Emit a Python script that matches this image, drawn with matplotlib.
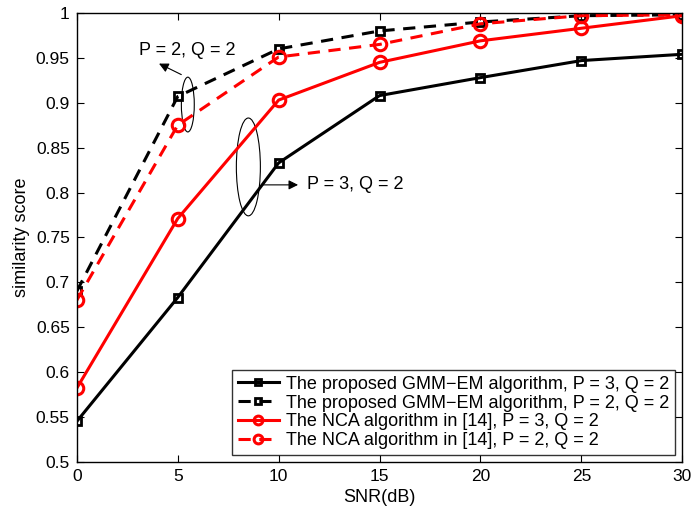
import matplotlib
matplotlib.use("Agg")
import matplotlib.pyplot as plt
from matplotlib.patches import Ellipse

plt.rcParams['font.family'] = ['Liberation Sans', 'DejaVu Sans']

snr = [0, 5, 10, 15, 20, 25, 30]
gmm_p3 = [0.545, 0.683, 0.833, 0.908, 0.928, 0.947, 0.954]
gmm_p2 = [0.690, 0.907, 0.960, 0.980, 0.990, 0.997, 0.998]
nca_p3 = [0.582, 0.771, 0.903, 0.945, 0.969, 0.983, 0.997]
nca_p2 = [0.680, 0.875, 0.951, 0.965, 0.988, 0.997, 0.998]
labels = ["The proposed GMM\u2212EM algorithm, P = 3, Q = 2",
          "The proposed GMM\u2212EM algorithm, P = 2, Q = 2",
          "The NCA algorithm in [14], P = 3, Q = 2",
          "The NCA algorithm in [14], P = 2, Q = 2"]
xticks = [0, 5, 10, 15, 20, 25, 30]
yticks = [0.5, 0.55, 0.6, 0.65, 0.7, 0.75, 0.8, 0.85, 0.9, 0.95, 1.0]
ytick_labels = ["0.5", "0.55", "0.6", "0.65", "0.7", "0.75", "0.8", "0.85", "0.9", "0.95", "1"]

fig = plt.figure(figsize=(6.92, 5.2), dpi=100)
ax = fig.add_axes([0.111, 0.112, 0.875, 0.863])

lw = 2.2
ax.plot(snr, gmm_p3, '-', color='black', lw=lw, marker='s', ms=6, mfc='none', mew=2.0, label=labels[0])
ax.plot(snr, gmm_p2, '--', color='black', lw=lw, marker='s', ms=6, mfc='none', mew=2.0, dashes=(4, 2.8), label=labels[1])
ax.plot(snr, nca_p3, '-', color='#ff0000', lw=lw, marker='o', ms=9, mfc='none', mew=2.2, label=labels[2])
ax.plot(snr, nca_p2, '--', color='#ff0000', lw=lw, marker='o', ms=9, mfc='none', mew=2.2, dashes=(4, 2.8), label=labels[3])

ax.set_xlim(0, 30)
ax.set_ylim(0.5, 1.0)
ax.set_xticks(xticks)
ax.set_yticks(yticks)
ax.set_yticklabels(ytick_labels)
ax.tick_params(direction='in', labelsize=12.5, length=5, top=True, right=True, pad=5)
for s in ax.spines.values():
    s.set_linewidth(1.0)
ax.set_xlabel("SNR(dB)", fontsize=13)
ax.set_ylabel("similarity score", fontsize=13, labelpad=4)

# annotations
ax.add_patch(Ellipse((5.5, 0.898), 0.64, 0.061, fill=False, lw=0.8, color='black'))
ax.add_patch(Ellipse((8.5, 0.8285), 1.19, 0.109, fill=False, lw=0.8, color='black'))
ax.annotate("", xy=(3.95, 0.945), xytext=(5.3, 0.93),
            arrowprops=dict(arrowstyle='-|>', color='black', lw=0.8, mutation_scale=14))
ax.text(3.1, 0.958, "P = 2, Q = 2", fontsize=13, va='center', ha='left')
ax.annotate("", xy=(11.1, 0.8085), xytext=(9.1, 0.8085),
            arrowprops=dict(arrowstyle='-|>', color='black', lw=0.8, mutation_scale=14))
ax.text(11.4, 0.8085, "P = 3, Q = 2", fontsize=13, va='center', ha='left')

leg = ax.legend(loc='lower right', fontsize=13, frameon=True, fancybox=False,
                edgecolor='black', borderpad=0.3, labelspacing=0.1,
                handlelength=2.3, handletextpad=0.4, borderaxespad=0.4, markerscale=0.7)
leg.get_frame().set_linewidth(1.0)

fig.savefig("out.png", dpi=100)
